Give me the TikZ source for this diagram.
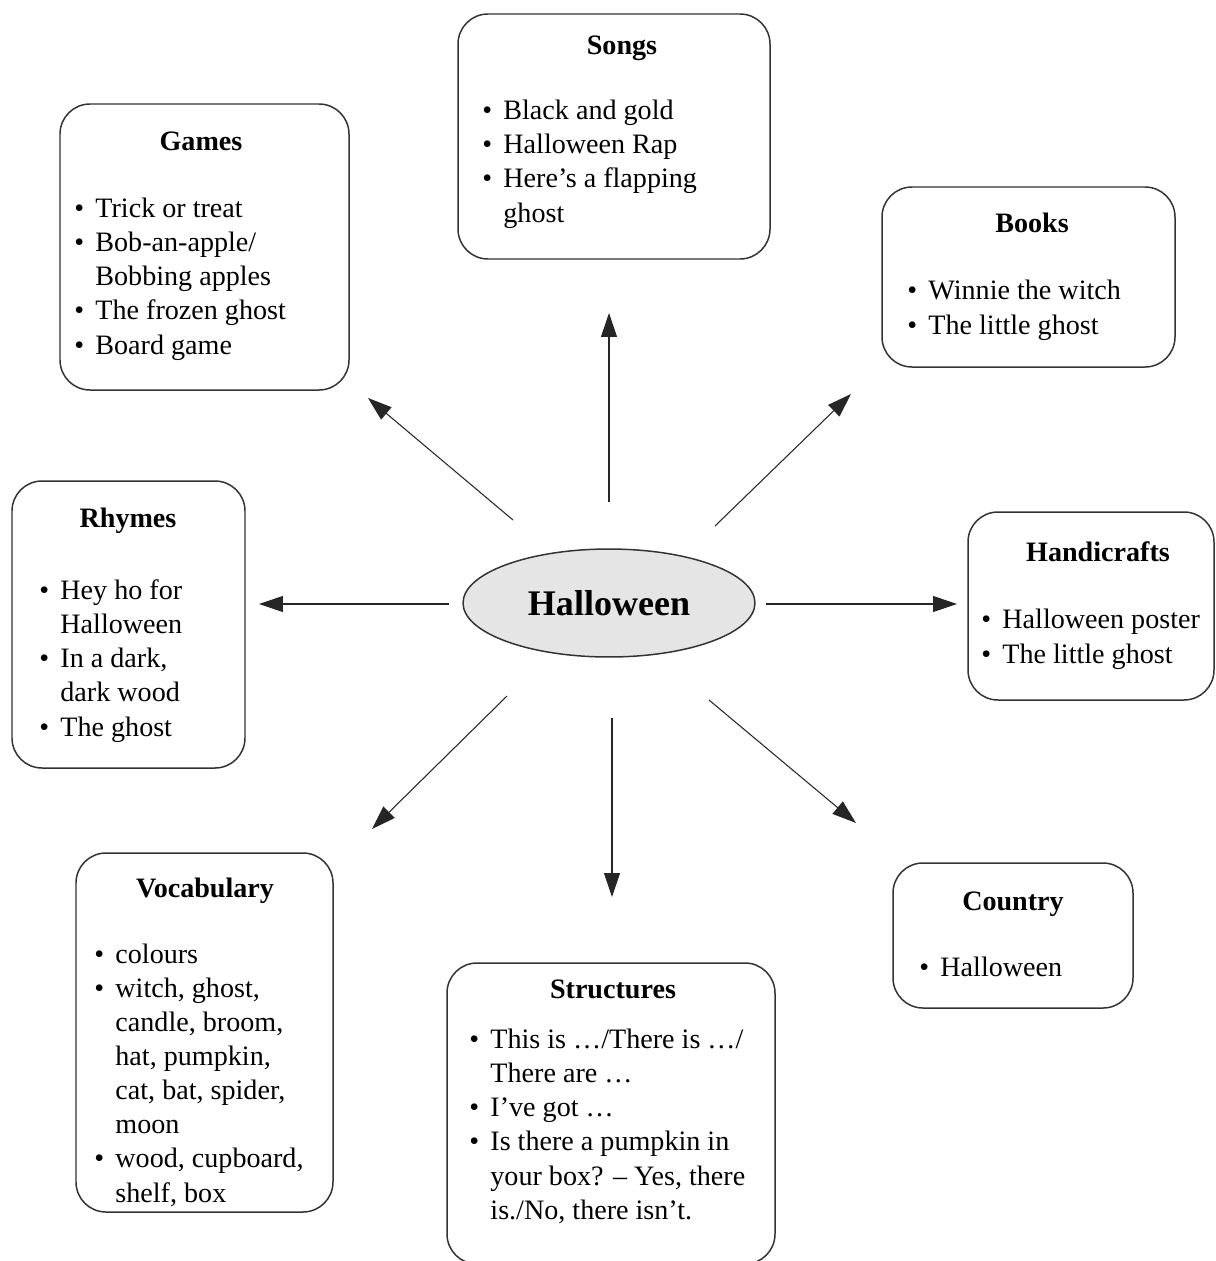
\documentclass[tikz,border=0pt]{standalone}
\usepackage{fontspec}
\setmainfont{Liberation Serif}
\usetikzlibrary{arrows.meta,fit,shapes.geometric}

\tikzset{
  box/.style={draw=black!80, line width=0.85pt, rounded corners=0.6cm, inner sep=0pt},
  ttl/.style={font=\fontsize{16}{19.36}\selectfont\bfseries, anchor=base, inner sep=0pt},
  % anchor sits on the baseline of the LAST line
  lst/.style={font=\fontsize{16}{19.36}\selectfont, align=left, anchor=base west, inner sep=0pt},
  arr/.style={draw=black!85, line width=0.6pt, -{Triangle[length=0.48cm,width=0.32cm]}},
}
\newcommand{\bul}{\makebox[0.75em][l]{\textbullet}}
\newcommand{\ind}{\hspace*{0.75em}}

\begin{document}
\begin{tikzpicture}[x=0.02cm, y=-0.02cm]
    \useasboundingbox (0,0) rectangle (1215,1261); % page = reference size

    % centre
    \node[ellipse, draw=black!80, line width=0.85pt, fill=black!10, minimum width=5.84cm,
          minimum height=2.16cm, inner sep=0pt, font=\fontsize{20.5}{24}\selectfont\bfseries]
          (hw) at (609,603) {Halloween};

    % boxes
    \node[box, fit={(458,14) (770,259)}] (songs) {};
    \node[ttl] (songs-t) at (622,54) {Songs};
    \node[lst] (songs-l) at (482,222) {\bul Black and gold\\ \bul Halloween Rap\\
        \bul Here’s a flapping\\ \ind ghost};

    \node[box, fit={(60,104) (349,390)}] (games) {};
    \node[ttl] (games-t) at (201,150) {Games};
    \node[lst] (games-l) at (74,354) {\bul Trick or treat\\ \bul Bob-an-apple/\\
        \ind Bobbing apples\\ \bul The frozen ghost\\ \bul Board game};

    \node[box, fit={(882,187) (1175,367)}] (books) {};
    \node[ttl] (books-t) at (1032,232) {Books};
    \node[lst] (books-l) at (907,334) {\bul Winnie the witch\\ \bul The little ghost};

    \node[box, fit={(12,481) (245,768)}] (rhymes) {};
    \node[ttl] (rhymes-t) at (128,527) {Rhymes};
    \node[lst] (rhymes-l) at (39,736) {\bul Hey ho for\\ \ind Halloween\\ \bul In a dark,\\
        \ind dark wood\\ \bul The ghost};

    \node[box, fit={(968,512) (1214,700)}] (crafts) {};
    \node[ttl] (crafts-t) at (1098,561) {Handicrafts};
    \node[lst] (crafts-l) at (981,663) {\bul Halloween poster\\ \bul The little ghost};

    \node[box, fit={(76,853) (333,1212)}] (vocab) {};
    \node[ttl] (vocab-t) at (205,897) {Vocabulary};
    \node[lst] (vocab-l) at (94,1202) {\bul colours\\ \bul witch, ghost,\\ \ind candle, broom,\\
        \ind hat, pumpkin,\\ \ind cat, bat, spider,\\ \ind moon\\ \bul wood, cupboard,\\
        \ind shelf, box};

    \node[box, fit={(893,863) (1133,1008)}] (country) {};
    \node[ttl] (country-t) at (1013,910) {Country};
    \node[lst] (country-l) at (919,976) {\bul Halloween};

    \node[box, fit={(447,963) (775,1264)}] (struct) {};
    \node[ttl] (struct-t) at (613,998) {Structures};
    \node[lst] (struct-l) at (469,1219) {\bul This is …/There is …/\\ \ind There are …\\
        \bul I’ve got …\\ \bul Is there a pumpkin in\\ \ind your box? -- Yes, there\\
        \ind is./No, there isn’t.};

    % arrow ends
    \coordinate (n-s) at (609,502);  \coordinate (n-e) at (609,313);
    \coordinate (nw-s) at (513,520); \coordinate (nw-e) at (368,398);
    \coordinate (ne-s) at (715,526); \coordinate (ne-e) at (851,394);
    \coordinate (w-s) at (449,604);  \coordinate (w-e) at (259,604);
    \coordinate (e-s) at (766,604);  \coordinate (e-e) at (957,604);
    \coordinate (sw-s) at (507,696); \coordinate (sw-e) at (372,829);
    \coordinate (s-s) at (612,718);  \coordinate (s-e) at (612,897);
    \coordinate (se-s) at (709,700); \coordinate (se-e) at (856,823);

    \draw[arr] (n-s) -- (n-e);
    \draw[arr] (nw-s) -- (nw-e);
    \draw[arr] (ne-s) -- (ne-e);
    \draw[arr] (w-s) -- (w-e);
    \draw[arr] (e-s) -- (e-e);
    \draw[arr] (sw-s) -- (sw-e);
    \draw[arr] (s-s) -- (s-e);
    \draw[arr] (se-s) -- (se-e);
\end{tikzpicture}
\end{document}
